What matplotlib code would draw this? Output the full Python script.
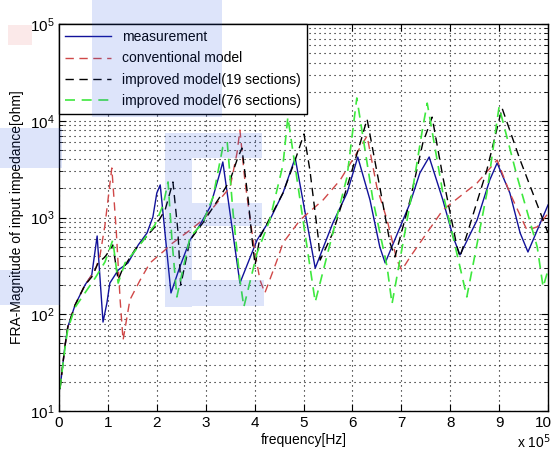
import matplotlib
matplotlib.use('Agg')
import matplotlib.pyplot as plt
from matplotlib.patches import Rectangle
from matplotlib.transforms import ScaledTranslation

plt.rcParams['font.family'] = ['Liberation Sans', 'DejaVu Sans']

# frequency in units of 1e5 Hz, magnitude in ohm
meas_f = [0.02, 0.12, 0.18, 0.33, 0.53, 0.67, 0.78, 0.90, 0.98, 1.04, 1.21, 1.41, 1.62,
          1.80, 1.92, 2.00, 2.07, 2.29, 2.47, 2.68, 2.88, 3.09, 3.29, 3.35, 3.70, 4.05,
          4.31, 4.58, 4.83, 5.24, 5.60, 5.89, 6.11, 6.36, 6.56, 6.67, 7.18, 7.38, 7.57,
          7.85, 8.06, 8.20, 8.55, 8.81, 8.96, 9.22, 9.43, 9.59, 10.0]
meas_z = [17, 46, 74, 125, 200, 255, 644, 83, 131, 210, 286, 339, 520,
          692, 1012, 1790, 2170, 166, 308, 585, 836, 1285, 2885, 3750, 210, 585,
          942, 1790, 4120, 300, 877, 1790, 4220, 1517, 496, 339, 1413, 2885, 4220,
          1517, 630, 410, 942, 2450, 3660, 1790, 692, 440, 1346]

conv_f = [0.02, 0.12, 0.18, 0.33, 0.53, 0.74, 0.84, 0.94, 1.08, 1.17, 1.25, 1.31, 1.45,
          1.66, 1.86, 2.17, 2.27, 2.68, 2.94, 3.23, 3.50, 3.64, 3.70, 3.80, 3.91, 4.01,
          4.11, 4.21, 4.46, 4.58, 4.93, 5.40, 5.75, 6.09, 6.30, 6.50, 6.71, 6.91, 7.01,
          7.18, 7.85, 8.55, 8.96, 9.22, 9.57, 9.78, 10.0]
conv_z = [17, 46, 74, 125, 200, 286, 410, 836, 3250, 741, 141, 54, 141,
          226, 339, 462, 520, 741, 942, 1413, 2065, 4650, 8000, 2440, 942, 430,
          226, 166, 363, 545, 942, 1517, 2440, 4650, 6950, 2065, 942, 363, 286,
          391, 1197, 2275, 3930, 1790, 741, 800, 1100]

imp19_f = [0.02, 0.12, 0.18, 0.33, 0.53, 0.67, 0.80, 0.94, 1.04, 1.10, 1.21, 1.29, 1.55,
           1.96, 2.17, 2.33, 2.43, 2.49, 2.68, 2.94, 3.29, 3.50, 3.64, 3.74, 3.87, 3.95,
           4.01, 4.11, 4.58, 4.83, 5.01, 5.13, 5.30, 5.34, 5.60, 5.89, 6.16, 6.30, 6.56,
           6.77, 6.87, 7.18, 7.44, 7.63, 7.85, 8.14, 8.20, 8.75, 9.06, 9.43, 9.90, 10.0]
imp19_z = [17, 46, 74, 125, 200, 243, 339, 391, 462, 520, 226, 286, 462,
           798, 1197, 2330, 741, 200, 585, 877, 1630, 2440, 3930, 5220, 1517, 585,
           323, 628, 1790, 3930, 7300, 3100, 628, 363, 692, 2065, 5890, 10400, 2065,
           545, 391, 1517, 5890, 10900, 2630, 496, 391, 3100, 13550, 3930, 942, 692]

imp76_f = [0.02, 0.12, 0.18, 0.33, 0.53, 0.74, 0.94, 1.10, 1.21, 1.35, 1.62, 1.96, 2.13,
           2.23, 2.31, 2.41, 2.68, 2.94, 3.15, 3.35, 3.44, 3.56, 3.70, 3.78, 4.05, 4.31,
           4.58, 4.68, 4.99, 5.24, 5.60, 5.89, 6.09, 6.42, 6.71, 6.81, 7.24, 7.44, 7.53,
           7.85, 8.20, 8.34, 8.75, 8.96, 9.00, 9.37, 9.78, 9.90, 10.0]
imp76_z = [17, 44, 70, 118, 166, 237, 347, 585, 210, 339, 496, 836, 1346,
           2330, 585, 151, 628, 877, 1630, 5350, 6030, 1114, 226, 119, 430, 942,
           3490, 10900, 942, 134, 692, 2625, 17200, 1517, 308, 128, 2065, 8600, 15200,
           1790, 308, 151, 1790, 10200, 13900, 2630, 496, 191, 286]

labels = ['measurement', 'conventional model',
          'improved model(19 sections)', 'improved model(76 sections)']

fig = plt.figure(figsize=(5.52, 4.53), dpi=100)
ax = fig.add_axes([59 / 552, 42 / 453, 489 / 552, 387 / 453])

ax.semilogy(meas_f, meas_z, '-', color='#12129a', lw=1.0, label=labels[0])
ax.semilogy(conv_f, conv_z, '--', color='#d04848', lw=1.0, dashes=(6, 4), label=labels[1])
ax.semilogy(imp19_f, imp19_z, '--', color='black', lw=1.0, dashes=(6, 4), label=labels[2])
ax.semilogy(imp76_f, imp76_z, '--', color='#3ee83e', lw=1.2, dashes=(6, 4), label=labels[3])

ax.set_xlim(0, 10)
ax.set_ylim(10, 1e5)
ax.set_xticks(range(11))
ax.xaxis.set_minor_locator(matplotlib.ticker.NullLocator())
ax.tick_params(which='both', direction='in', top=True, right=True, labelsize=11)
ax.tick_params(which='major', length=5)
ax.tick_params(which='minor', length=3)
dots = (0, (1, 3.5))
ax.grid(True, which='major', linestyle=dots, color='black', lw=0.8)
ax.grid(True, which='minor', axis='y', linestyle=dots, color='black', lw=0.8)
for s in ax.spines.values():
    s.set_linewidth(1.0)

# keep the "10" label inside the figure
last = ax.get_xticklabels()[-1]
last.set_transform(last.get_transform() + ScaledTranslation(-5 / 100, 0, fig.dpi_scale_trans))

ax.set_xlabel('frequency[Hz]', fontsize=10, labelpad=2)
ax.set_ylabel('FRA-Magnitude of input impedance[ohm]', fontsize=10, labelpad=4)
fig.text(0.997, 0.004, r'x 10$^5$', fontsize=10, ha='right', va='bottom')

leg = ax.legend(loc='upper left', borderaxespad=0, fancybox=False, framealpha=1,
                edgecolor='black', fontsize=10, handlelength=3.3, labelspacing=0.52,
                borderpad=0.45)
leg.get_frame().set_linewidth(1.0)

# light blue overlay blocks
blocks = [(92, 0, 130, 117), (165, 133, 27, 174), (192, 133, 70, 25),
          (192, 203, 70, 23), (192, 280, 72, 26), (0, 128, 62, 40), (0, 270, 60, 35)]
for x0, y0, w, h in blocks:
    fig.patches.append(Rectangle((x0 / 552, 1 - (y0 + h) / 453), w / 552, h / 453,
                                 transform=fig.transFigure, color='#1f4fe0',
                                 alpha=0.15, lw=0, zorder=5))
fig.patches.append(Rectangle((8 / 552, 1 - 45 / 453), 24 / 552, 20 / 453,
                             transform=fig.transFigure, color='#e05050',
                             alpha=0.12, lw=0, zorder=5))

fig.savefig('out.png', dpi=100)
